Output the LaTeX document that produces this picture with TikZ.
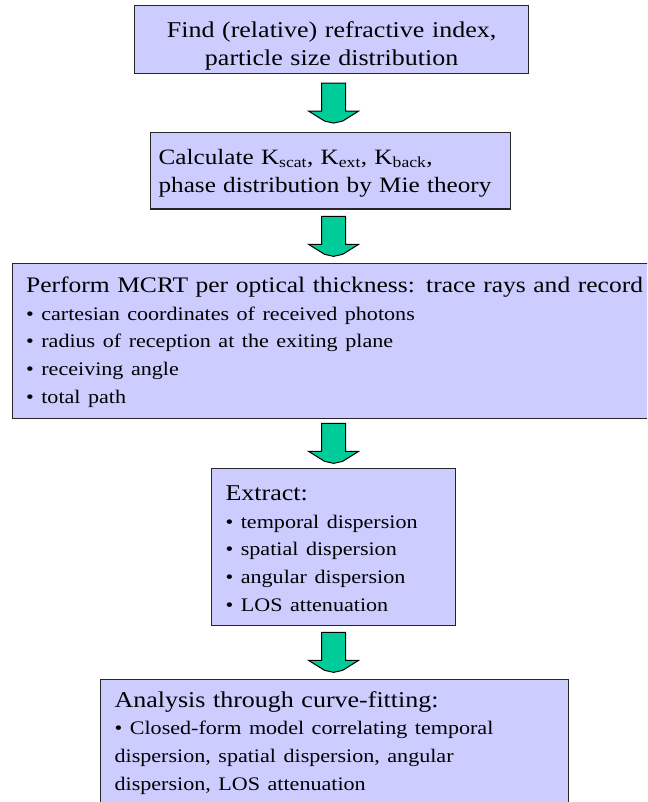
\documentclass[tikz,border=0pt]{standalone}
\usepackage{fontspec}
\setmainfont{Liberation Serif}[FakeStretch=1.15]
\usetikzlibrary{calc}
\definecolor{boxblue}{HTML}{CCCCFF}
\definecolor{arrowgreen}{HTML}{00CC99}
\newcommand{\headfont}{\fontsize{22.6}{28}\selectfont}
\newcommand{\itemfont}{\fontsize{19.2}{27.5}\selectfont}
\newcommand{\upstrut}[1]{\rule{0pt}{#1pt}}
\newcommand{\dnstrut}[1]{\rule[-#1pt]{0pt}{#1pt}}

\begin{document}
\begin{tikzpicture}[x=1pt, y=1pt,
    stagebox/.style={draw=black!85, fill=boxblue, line width=1.2pt, anchor=north west,
      inner xsep=14pt, inner ysep=0pt, align=left, font=\headfont},
    blockarrow/.style={draw=black, fill=arrowgreen, line width=1pt, line join=miter}]
  \useasboundingbox (0,0) rectangle (647,-802);
  \clip (0,0) rectangle (647,-802);
  % stages of the procedure
  \node[stagebox, text width=366pt, align=center] (find) at (134,-5)
    {\upstrut{32}Find (relative) refractive index,\\ particle size distribution\dnstrut{8}};
  \node[stagebox, inner xsep=8pt, text width=344pt, font=\fontsize{21.9}{28.5}\selectfont] (mie) at (150,-132)
    {\upstrut{31.5}Calculate K\textsubscript{scat}, K\textsubscript{ext}, K\textsubscript{back},\\
     phase distribution by Mie theory\dnstrut{16.5}};
  \node[stagebox, text width=632pt] (mcrt) at (11.5,-263)
    {\upstrut{29}{\fontsize{22.2}{28}\selectfont Perform MCRT per optical thickness: trace rays and record}\par
     \itemfont • cartesian coordinates of received photons\\
     • radius of reception at the exiting plane\\
     • receiving angle\\
     • total path\dnstrut{15}};
  \node[stagebox, text width=216pt] (extract) at (211,-468)
    {\upstrut{32}Extract:\par
     \itemfont • temporal dispersion\\
     • spatial dispersion\\
     • angular dispersion\\
     • LOS attenuation\dnstrut{14}};
  \node[stagebox, text width=440pt] (fit) at (100,-679)
    {\upstrut{27.5}Analysis through curve-fitting:\par
     \itemfont • Closed-form model correlating temporal\\
     dispersion, spatial dispersion, angular\\
     dispersion, LOS attenuation\dnstrut{30}};
  % block arrows between the stages
  \foreach \src/\dst in {find/mie, mie/mcrt, mcrt/extract, extract/fit} {
    \coordinate (gap) at ($(\src.south)!0.5!(\dst.north)$);
    \draw[blockarrow] (extract.center |- gap) ++(-12,20) -- ++(24,0) -- ++(0,-28) -- ++(13,0)
      -- ++(-16,-10) -- ++(-9,-2) -- ++(-9,2) -- ++(-16,10) -- ++(13,0) -- cycle;
  }
\end{tikzpicture}
\end{document}
